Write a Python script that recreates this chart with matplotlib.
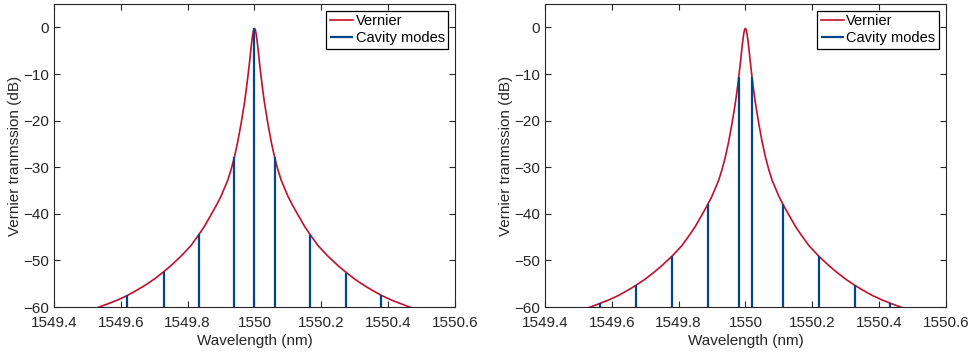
import matplotlib.pyplot as plt
from matplotlib.ticker import FormatStrFormatter

plt.rcParams['font.family'] = ['Liberation Sans', 'DejaVu Sans']

# Vernier transmission (same curve in both panels)
vernier_wl = [1549.45, 1549.535, 1549.565, 1549.59, 1549.62, 1549.65, 1549.673,
              1549.70, 1549.727, 1549.75, 1549.78, 1549.81, 1549.834, 1549.85,
              1549.87, 1549.888, 1549.90, 1549.92, 1549.93, 1549.94, 1549.95,
              1549.96, 1549.97, 1549.975, 1549.98, 1549.985, 1549.9875, 1549.99,
              1549.9925, 1549.995, 1549.9975, 1550.0,
              1550.0025, 1550.005, 1550.0075, 1550.01, 1550.0125, 1550.015,
              1550.02, 1550.025, 1550.03, 1550.04, 1550.05, 1550.06, 1550.07,
              1550.08, 1550.10, 1550.112, 1550.13, 1550.15, 1550.166, 1550.19,
              1550.22, 1550.25, 1550.273, 1550.30, 1550.327, 1550.35, 1550.38,
              1550.41, 1550.435, 1550.465, 1550.55]
vernier_db = [-62.2, -60.0, -59.2, -58.5, -57.5, -56.3, -55.3,
              -54.0, -52.5, -51.1, -49.1, -46.8, -44.4, -42.7,
              -40.2, -37.9, -36.2, -32.8, -30.5, -27.8, -24.5,
              -20.6, -16.2, -13.6, -10.7, -7.6, -5.9, -4.2,
              -2.7, -1.4, -0.5, -0.2,
              -0.5, -1.4, -2.7, -4.2, -5.9, -7.6,
              -10.7, -13.6, -16.2, -20.6, -24.5, -27.8, -30.5,
              -32.8, -36.2, -37.9, -40.2, -42.7, -44.4, -46.8,
              -49.1, -51.1, -52.5, -54.0, -55.3, -56.3, -57.5,
              -58.5, -59.2, -60.0, -62.2]

# cavity modes, left panel
modes_a_wl = [1549.620, 1549.728, 1549.834, 1549.939, 1550.000,
              1550.061, 1550.166, 1550.273, 1550.380]
modes_a_db = [-57.5, -52.5, -44.4, -27.8, -0.2, -27.8, -44.5, -52.6, -57.5]

# cavity modes, right panel
modes_b_wl = [1549.565, 1549.672, 1549.780, 1549.888, 1549.980,
              1550.020, 1550.112, 1550.220, 1550.327, 1550.434]
modes_b_db = [-59.2, -55.3, -49.0, -37.9, -10.7, -10.7, -37.9, -49.0, -55.3, -59.2]

xticks = [1549.4, 1549.6, 1549.8, 1550.0, 1550.2, 1550.4, 1550.6]
yticks = [-60, -50, -40, -30, -20, -10, 0]

red = '#C0102B'
blue = '#00468C'
txt = '#262626'

fig = plt.figure(figsize=(9.78, 3.55), dpi=100)
ax1 = fig.add_axes([0.0552, 0.135, 0.410, 0.8535])
ax2 = fig.add_axes([0.5573, 0.135, 0.4097, 0.8535])

for ax, mwl, mdb in [(ax1, modes_a_wl, modes_a_db), (ax2, modes_b_wl, modes_b_db)]:
    ax.plot(vernier_wl, vernier_db, color=red, lw=1.2, label='Vernier')
    ax.vlines(mwl, -60, mdb, color=blue, lw=1.6, label='Cavity modes')
    ax.set_xlim(1549.4, 1550.6)
    ax.set_ylim(-60, 5)
    ax.set_xticks(xticks)
    ax.set_yticks(yticks)
    ax.xaxis.set_major_formatter(FormatStrFormatter('%g'))
    ax.tick_params(direction='in', top=True, right=True, length=4,
                   labelsize=11, colors=txt, width=0.8)
    ax.tick_params(axis='x', pad=6.5)
    for s in ax.spines.values():
        s.set_color(txt)
        s.set_linewidth(0.8)
    ax.set_xlabel('Wavelength (nm)', fontsize=11, color=txt, labelpad=3)
    ax.set_ylabel('Vernier tranmssion (dB)', fontsize=11, color=txt, labelpad=1)
    leg = ax.legend(loc='upper right', fontsize=10.5, fancybox=False, framealpha=1,
                    edgecolor='black', borderpad=0.25, handlelength=1.6,
                    handletextpad=0.15, labelspacing=0.2, borderaxespad=0.45)
    leg.get_frame().set_linewidth(0.9)

fig.savefig('out.png', dpi=100)
